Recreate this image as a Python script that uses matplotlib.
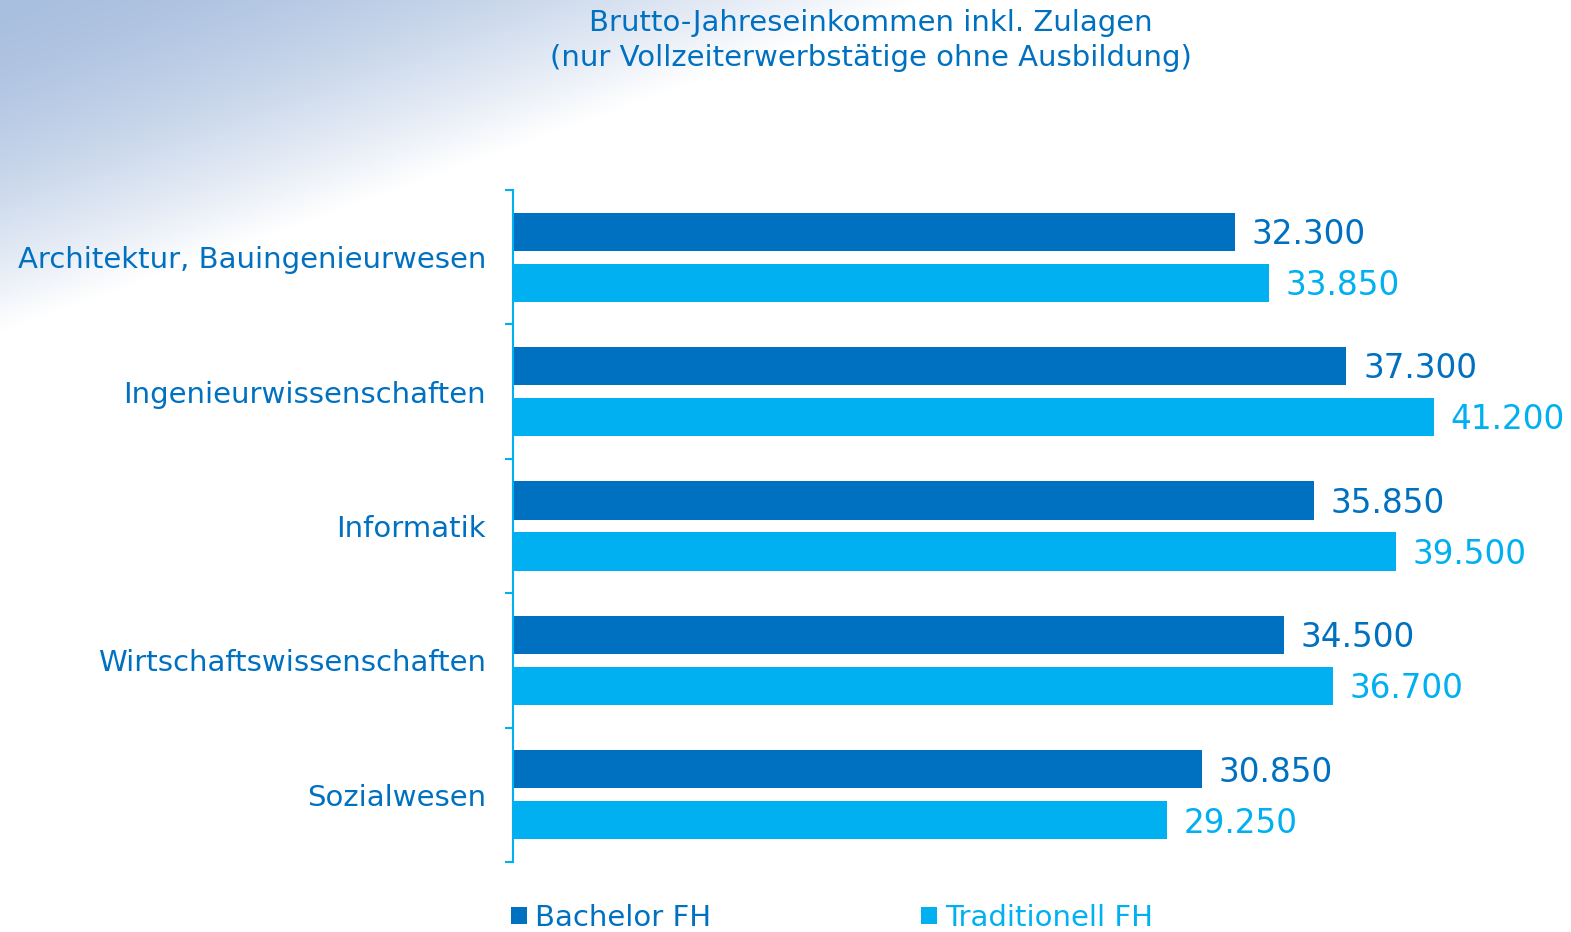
import numpy as np
import matplotlib
matplotlib.use("Agg")
import matplotlib.pyplot as plt

categories = [
    "Architektur, Bauingenieurwesen",
    "Ingenieurwissenschaften",
    "Informatik",
    "Wirtschaftswissenschaften",
    "Sozialwesen",
]
bachelor_fh = [32300, 37300, 35850, 34500, 30850]
traditionell_fh = [33850, 41200, 39500, 36700, 29250]
series_names = ["Bachelor FH", "Traditionell FH"]

DARK = "#0070C0"
LIGHT = "#00B0F0"

plt.rcParams["font.family"] = ["DejaVu Sans"]

W, H = 1571, 932
fig = plt.figure(figsize=(W / 100, H / 100), dpi=100)

# background gradient in the top-left corner
bg = fig.add_axes([0, 0, 1, 1], zorder=-1)
xx, yy = np.meshgrid(np.arange(W), np.arange(H))
d = xx / 575 + yy / 207
t = 1 - np.clip(d / 1.6, 0, 1) ** 1.6
corner = np.array([169, 191, 223]) / 255
img = 1 - t[..., None] * (1 - corner)
bg.imshow(img, extent=(0, W, H, 0), aspect="auto")
bg.set_axis_off()

left_px, right_px, top_px, bot_px = 513, 1500, 190, 862
ax = fig.add_axes([left_px / W, 1 - bot_px / H, (right_px - left_px) / W, (bot_px - top_px) / H])
ax.patch.set_alpha(0)

y = np.arange(len(categories))
h = 0.285
off = 0.19
b1 = ax.barh(y - off, bachelor_fh, height=h, color=DARK, label=series_names[0])
b2 = ax.barh(y + off, traditionell_fh, height=h, color=LIGHT, label=series_names[1])

ax.set_xlim(0, (right_px - left_px) / 0.022343)
ax.set_ylim(len(categories) - 0.5, -0.5)


def fmt(v):
    return f"{v:,}".replace(",", ".")


for bars, vals, col in [(b1, bachelor_fh, DARK), (b2, traditionell_fh, LIGHT)]:
    for rect, v in zip(bars, vals):
        ax.annotate(fmt(v), (v, rect.get_y() + rect.get_height() / 2),
                    xytext=(12, -2), textcoords="offset points",
                    va="center", ha="left", fontsize=23.5, color=col,
                    annotation_clip=False)

for s in ["top", "right", "bottom"]:
    ax.spines[s].set_visible(False)
ax.spines["left"].set_color(LIGHT)
ax.spines["left"].set_linewidth(1.5)
ax.set_xticks([])
ax.set_yticks(np.arange(len(categories) + 1) - 0.5)
ax.set_yticklabels([])
ax.tick_params(axis="y", which="major", length=6, width=1.5, color=LIGHT)
ax.set_yticks(y, minor=True)
ax.set_yticklabels(categories, minor=True)
ax.tick_params(axis="y", which="minor", length=0, pad=19.5, labelsize=21, labelcolor=DARK)

fig.text(871 / W, 1 - 40.5 / H,
         "Brutto-Jahreseinkommen inkl. Zulagen\n(nur Vollzeiterwerbstätige ohne Ausbildung)",
         ha="center", va="center", fontsize=21, color=DARK, linespacing=1.3)

leg = fig.legend(handles=[b1, b2], loc="center left",
                 bbox_to_anchor=(511 / W, 1 - 918 / H), ncol=2, frameon=False,
                 fontsize=21, handlelength=0.55, handleheight=0.55,
                 handletextpad=0.28, columnspacing=7.2, borderpad=0, borderaxespad=0)
for txt, col in zip(leg.get_texts(), [DARK, LIGHT]):
    txt.set_color(col)

fig.savefig("out.png", dpi=100)
